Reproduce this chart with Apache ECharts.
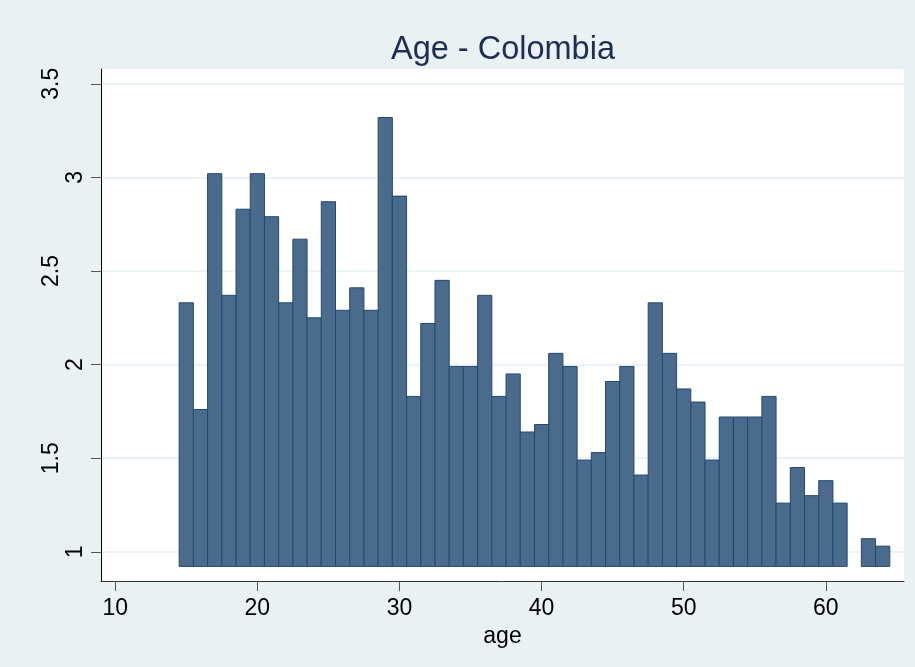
<!DOCTYPE html>
<html>
<head>
<meta charset="utf-8">
<script src="https://cdn.jsdelivr.net/npm/echarts@6/dist/echarts.min.js"></script>
<style>
html,body{margin:0;padding:0;background:#e9f1f3;}
#chart{width:915px;height:667px;}
</style>
</head>
<body>
<div id="chart"></div>
<script>
// Data
var ages = [15,16,17,18,19,20,21,22,23,24,25,26,27,28,29,30,31,32,33,34,35,36,37,38,39,40,
            41,42,43,44,45,46,47,48,49,50,51,52,53,54,55,56,57,58,59,60,61,63,64];
var heights = [2.33,1.76,3.02,2.37,2.83,3.02,2.79,2.33,2.67,2.25,2.87,2.29,2.41,2.29,3.32,2.90,
               1.83,2.22,2.45,1.99,1.99,2.37,1.83,1.95,1.64,1.68,2.06,1.99,1.49,1.53,1.91,1.99,
               1.41,2.33,2.06,1.87,1.80,1.49,1.72,1.72,1.72,1.83,1.26,1.45,1.30,1.38,1.26,1.07,1.03];
var binWidth = 1;
var barBase = 0.922;
var xTicks = [10,20,30,40,50,60];
var yTicks = [1,1.5,2,2.5,3,3.5];
var xRange = [9, 65.5];
var yRange = [0.844, 3.579];

var data = ages.map(function(a,i){ return [a, heights[i]]; });

var chart = echarts.init(document.getElementById('chart'), null, {renderer:'canvas'});
var FONT = '"Liberation Sans", Arial, Helvetica, sans-serif';

chart.setOption({
  backgroundColor: '#e9f1f3',
  animation: false,
  title: {
    text: 'Age - Colombia',
    left: 386,
    top: 29,
    textStyle: {fontFamily: FONT, fontSize: 32.5, fontWeight: 'normal', color: '#1f2d55', lineHeight: 32}
  },
  grid: {
    left: 101, right: 11, top: 69, bottom: 86,
    show: true, backgroundColor: '#ffffff', borderWidth: 0
  },
  xAxis: {
    type: 'value',
    min: xRange[0], max: xRange[1],
    name: 'age',
    nameLocation: 'middle',
    nameGap: 34,
    nameTextStyle: {fontFamily: FONT, fontSize: 23, color: '#000'},
    axisLine: {show: true, onZero: false, lineStyle: {color: '#333', width: 1}},
    axisTick: {show: true, inside: false, length: 10, customValues: xTicks, lineStyle: {color: '#555', width: 1}},
    axisLabel: {customValues: xTicks, margin: 16, fontFamily: FONT, fontSize: 23, color: '#000'},
    splitLine: {show: false}
  },
  yAxis: {
    type: 'value',
    min: yRange[0], max: yRange[1],
    axisLine: {show: true, onZero: false, lineStyle: {color: '#000', width: 1}},
    axisTick: {show: true, inside: false, length: 10, customValues: yTicks, lineStyle: {color: '#555', width: 1}},
    axisLabel: {
      customValues: yTicks,
      rotate: 90,
      margin: 14,
      color: '#000',
      formatter: function(v){
        var s = String(v);
        return (Math.abs(v - Math.round(v)) < 1e-9) ? '{i|' + s + '}' : '{h|' + s + '}';
      },
      rich: {
        i: {fontFamily: FONT, fontSize: 23, color: '#000'},
        h: {fontFamily: FONT, fontSize: 23, color: '#000', padding: [0,0,24,0]}
      }
    },
    splitLine: {show: true, lineStyle: {color: '#e6eff1', width: 1.5}}
  },
  series: [{
    type: 'custom',
    data: data,
    clip: false,
    renderItem: function(params, api){
      var x = api.value(0), h = api.value(1);
      var p0 = api.coord([x - binWidth/2, h]);
      var p1 = api.coord([x + binWidth/2, barBase]);
      return {
        type: 'rect',
        shape: {x: p0[0], y: p0[1], width: p1[0]-p0[0], height: p1[1]-p0[1]},
        style: {fill: '#4a6b8c', stroke: '#23496f', lineWidth: 1}
      };
    }
  }]
});
</script>
</body>
</html>
